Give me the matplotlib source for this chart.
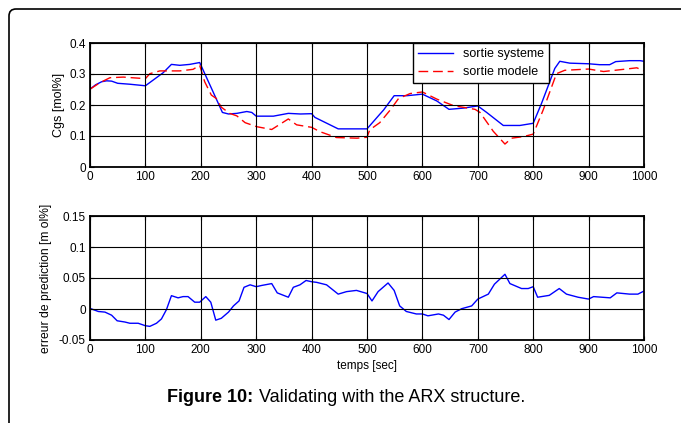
import numpy as np
import matplotlib
matplotlib.use("Agg")
import matplotlib.pyplot as plt
from matplotlib.path import Path
from matplotlib.patches import PathPatch

plt.rcParams['font.family'] = ['Liberation Sans', 'DejaVu Sans']

# sortie systeme
t_sys = [0, 10, 21, 30, 39, 50, 72, 100, 132, 147, 162, 180, 198, 210, 222, 239, 250, 265,
         283, 292, 300, 331, 358, 380, 400, 406, 448, 500, 523, 530, 549, 572, 600, 626, 648,
         674, 700, 716, 746, 776, 800, 815, 839, 848, 866, 900, 920, 938, 949, 974, 993, 1000]
y_sys = [0.251, 0.265, 0.275, 0.278, 0.277, 0.27, 0.267, 0.262, 0.304, 0.331, 0.328, 0.331,
         0.337, 0.29, 0.243, 0.176, 0.171, 0.173, 0.179, 0.176, 0.164, 0.164, 0.173, 0.171,
         0.172, 0.16, 0.123, 0.123, 0.17, 0.184, 0.23, 0.23, 0.235, 0.213, 0.186, 0.19, 0.197,
         0.176, 0.134, 0.134, 0.141, 0.205, 0.318, 0.341, 0.335, 0.333, 0.33, 0.33, 0.34,
         0.343, 0.343, 0.341]

# sortie modele
t_mod = [0, 18, 36, 60, 100, 108, 126, 162, 186, 198, 207, 219, 228, 237, 252, 265, 280, 301,
         328, 343, 358, 373, 400, 415, 445, 482, 500, 505, 523, 542, 557, 578, 600, 626, 656,
         695, 704, 728, 749, 761, 782, 800, 818, 842, 857, 900, 927, 963, 987, 1000]
y_mod = [0.251, 0.272, 0.288, 0.29, 0.285, 0.301, 0.31, 0.31, 0.315, 0.328, 0.275, 0.232,
         0.221, 0.193, 0.173, 0.165, 0.143, 0.13, 0.121, 0.138, 0.155, 0.136, 0.128, 0.114,
         0.095, 0.093, 0.096, 0.12, 0.143, 0.184, 0.221, 0.237, 0.242, 0.219, 0.198, 0.186,
         0.176, 0.115, 0.074, 0.093, 0.098, 0.106, 0.184, 0.301, 0.312, 0.316, 0.308, 0.315,
         0.32, 0.31]

# erreur de prediction
t_err = [0, 15, 27, 39, 49, 63, 72, 87, 100, 108, 120, 129, 138, 147, 159, 168, 177, 189, 198,
         209, 218, 227, 237, 250, 259, 269, 278, 289, 300, 310, 328, 338, 358, 367, 379, 390,
         400, 409, 427, 448, 463, 481, 500, 509, 520, 538, 549, 559, 571, 589, 600, 610, 629,
         638, 648, 659, 671, 689, 700, 719, 730, 749, 758, 779, 791, 800, 808, 829, 847, 860,
         881, 900, 909, 939, 951, 974, 989, 1000]
err = [0.001, -0.004, -0.005, -0.01, -0.019, -0.021, -0.023, -0.023, -0.027, -0.028, -0.023,
       -0.016, -0.001, 0.0215, 0.018, 0.02, 0.02, 0.011, 0.011, 0.02, 0.011, -0.018, -0.015,
       -0.005, 0.005, 0.013, 0.035, 0.039, 0.036, 0.038, 0.041, 0.026, 0.019, 0.035, 0.039,
       0.046, 0.044, 0.043, 0.039, 0.024, 0.028, 0.03, 0.025, 0.013, 0.028, 0.042, 0.03, 0.005,
       -0.004, -0.008, -0.008, -0.011, -0.008, -0.01, -0.017, -0.005, 0.0005, 0.005, 0.016,
       0.024, 0.04, 0.056, 0.041, 0.033, 0.033, 0.036, 0.019, 0.022, 0.033, 0.024, 0.019,
       0.016, 0.02, 0.018, 0.026, 0.024, 0.024, 0.029]

xticks = list(range(0, 1001, 100))
yticks1 = [0, 0.1, 0.2, 0.3, 0.4]
ylabels1 = ['0', '0.1', '0.2', '0.3', '0.4']
yticks2 = [-0.05, 0, 0.05, 0.1, 0.15]
ylabels2 = ['-0.05', '0', '0.05', '0.1', '0.15']

W, H = 683, 425
fig = plt.figure(figsize=(W / 100, H / 100), dpi=100)

def style(ax):
    ax.grid(True, color='k', lw=0.8)
    ax.set_axisbelow(False)
    ax.tick_params(direction='in', length=3, labelsize=8.5, top=True, right=True, pad=3)
    for s in ax.spines.values():
        s.set_linewidth(1.3)
    ax.set_xlim(0, 1000)
    ax.set_xticks(xticks)

ax1 = fig.add_axes([90 / W, 1 - 167 / H, 554 / W, 124 / H])
ax1.plot(t_sys, y_sys, color='b', lw=1, label='sortie systeme')
ax1.plot(t_mod, y_mod, color='r', lw=1, dashes=(7, 3.5), label='sortie modele')
style(ax1)
ax1.set_ylim(0, 0.4)
ax1.set_yticks(yticks1)
ax1.set_yticklabels(ylabels1)
ax1.set_ylabel('Cgs [mol%]', fontsize=9)
ax1.yaxis.set_label_coords(-0.046, 0.5)
leg = ax1.legend(loc='upper right', bbox_to_anchor=(0.829, 1.0), borderaxespad=0,
                 fontsize=9, handlelength=2.8, fancybox=False, framealpha=1,
                 edgecolor='k')
leg.get_frame().set_linewidth(1)

ax2 = fig.add_axes([90 / W, 1 - 340 / H, 554 / W, 124 / H])
ax2.plot(t_err, err, color='b', lw=1)
style(ax2)
ax2.set_ylim(-0.05, 0.15)
ax2.set_yticks(yticks2)
ax2.set_yticklabels(ylabels2)
ax2.set_ylabel('erreur de prediction [m ol%]', fontsize=8.7)
ax2.yaxis.set_label_coords(-0.068, 0.5)
ax2.set_xlabel('temps [sec]', fontsize=8.5, labelpad=3)

# page frame (left and top edges, rounded corner)
verts = [(9, H - 423), (9, H - 16), (9, H - 9), (16, H - 9), (681, H - 9)]
codes = [Path.MOVETO, Path.LINETO, Path.CURVE3, Path.CURVE3, Path.LINETO]
frame = PathPatch(Path([(x / W, y / H) for x, y in verts], codes), transform=fig.transFigure,
                  fill=False, lw=1.2, edgecolor='k')
fig.add_artist(frame)

# caption
fig.canvas.draw()
r = fig.canvas.get_renderer()
t1 = fig.text(0, 1 - 397 / H, 'Figure 10:', fontsize=13, fontweight='bold', va='center')
t2 = fig.text(0, 1 - 397 / H, ' Validating with the ARX structure.', fontsize=13, va='center')
w1 = t1.get_window_extent(r).width
w2 = t2.get_window_extent(r).width
x0 = 346 - (w1 + w2) / 2
t1.set_x(x0 / W)
t2.set_x((x0 + w1) / W)

fig.savefig('out.png', dpi=100)
